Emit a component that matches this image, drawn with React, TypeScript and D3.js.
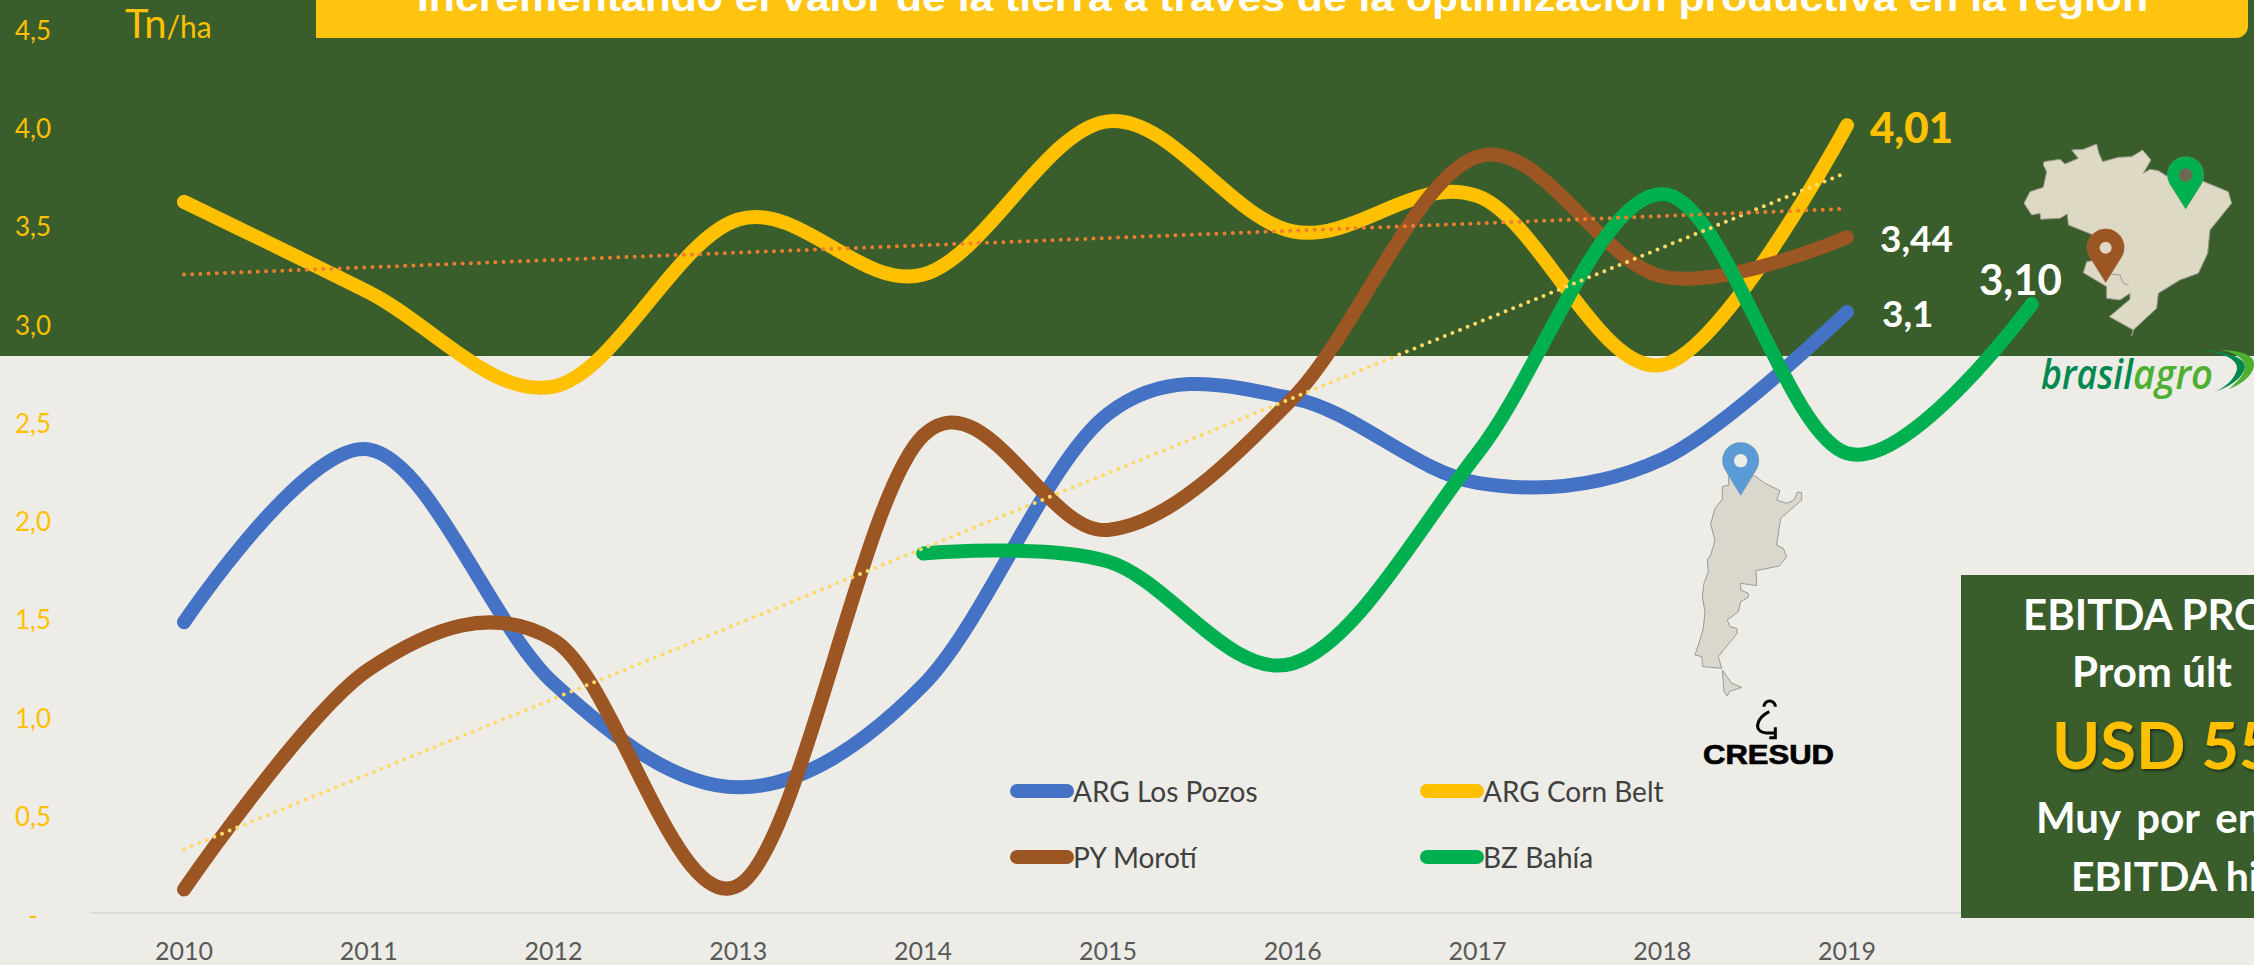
import React from "react";
import * as d3 from "d3";

const years = [2010, 2011, 2012, 2013, 2014, 2015, 2016, 2017, 2018, 2019];
const greenYears = [2014, 2015, 2016, 2017, 2018, 2019, 2020];
const yTickValues = [0, 0.5, 1, 1.5, 2, 2.5, 3, 3.5, 4, 4.5];
const yTickLabels = ["-", "0,5", "1,0", "1,5", "2,0", "2,5", "3,0", "3,5", "4,0", "4,5"];

const losPozos = [1.48, 2.36, 1.17, 0.64, 1.16, 2.54, 2.62, 2.19, 2.31, 3.06];
const cornBelt = [3.62, 3.16, 2.68, 3.53, 3.25, 4.03, 3.47, 3.65, 2.79, 4.01];
const moroti = [0.12, 1.24, 1.39, 0.14, 2.43, 1.95, 2.62, 3.85, 3.24, 3.44];
const bahia = [1.83, 1.79, 1.27, 2.34, 3.66, 2.34, 3.1];
const trendYellow = [0.325, 3.77];
const trendOrange = [3.25, 3.585];

const BLUE = "#4472C4", YELLOW = "#FFC000", BROWN = "#9C5623", GREEN = "#00B050";
const DARK = "#395E2B", LIGHT = "#EDECE7";

const x = d3.scaleLinear().domain([2010, 2019]).range([184, 1847]);
const y = d3.scaleLinear().domain([0, 4.5]).range([913, 29]);

const smooth = d3.line<[number, number]>().x((d) => x(d[0])).y((d) => y(d[1])).curve(d3.curveCardinal.tension(0));
const straight = d3.line<[number, number]>().x((d) => x(d[0])).y((d) => y(d[1]));
const zip = (xs: number[], vs: number[]) => vs.map((v, i) => [xs[i], v] as [number, number]);

const series = [
  { name: "ARG Los Pozos", xs: years, vs: losPozos, color: BLUE },
  { name: "ARG Corn Belt", xs: years, vs: cornBelt, color: YELLOW },
  { name: "PY Morotí", xs: years, vs: moroti, color: BROWN },
  { name: "BZ Bahía", xs: greenYears, vs: bahia, color: GREEN },
];

const brazil = "M282,185 L330,178 L345,192 L385,175 L365,150 L400,148 L440,132 L447,160 L458,185 L505,172 L545,170 L578,150 L603,180 L580,220 L600,208 L625,212 L650,228 L700,215 L750,240 L835,275 L845,310 L780,390 L773,460 L745,520 L690,540 L625,580 L620,625 L550,690 L545,708 L550,690 L478,650 L540,598 L540,580 L510,600 L470,595 L470,560 L400,518 L410,485 L440,480 L430,405 L355,375 L352,342 L330,355 L272,358 L270,340 L245,345 L222,310 L240,275 L280,262 L290,215 L280,195 Z";
const argentina = "M235,170 L237,195 L217,200 L217,238 L195,265 L182,312 L195,362 L182,405 L172,420 L175,455 L162,490 L157,530 L165,575 L160,625 L150,660 L135,705 L155,710 L158,740 L215,745 L205,710 L225,685 L262,640 L260,625 L240,620 L232,600 L265,575 L272,545 L295,532 L295,520 L272,510 L272,490 L320,497 L318,452 L388,438 L410,410 L400,385 L380,375 L392,295 L455,240 L455,218 L442,216 L432,240 L410,250 L380,240 L390,212 L345,190 L315,168 Z";
const fuego = "M217,750 L222,815 L232,828 L238,815 L275,802 L245,790 Z";

function Pin({ cx, cy, r, tip, hole, fill, holeFill }: any) {
  const dx = r * 0.86;
  const d = `M${cx},${tip} L${cx - dx},${cy + r * 0.5} A${r},${r} 0 1 1 ${cx + dx},${cy + r * 0.5} Z`;
  return (
    <g>
      <path d={d} fill={fill} stroke="#B98A6E" strokeWidth={0.6} />
      <circle cx={cx} cy={cy} r={hole} fill={holeFill} />
    </g>
  );
}

export default function App() {
  const lato = "Lato, 'Open Sans', sans-serif";
  return (
    <svg width={2254} height={965} viewBox="0 0 2254 965" style={{ position: "absolute", left: 0, top: 0, display: "block" }}>
      <defs>
        <filter id="sh" x="-10%" y="-10%" width="120%" height="130%">
          <feDropShadow dx="1.5" dy="2" stdDeviation="1.5" floodColor="#000" floodOpacity="0.5" />
        </filter>
      </defs>
      <rect x={0} y={0} width={2254} height={965} fill={LIGHT} />
      <rect x={0} y={0} width={2254} height={356} fill={DARK} />

      <path d="M316,0 H2248 V26 A12,12 0 0 1 2236,38 H316 Z" fill="#FFC410" />
      <text x={417} y={11} fontFamily="'Liberation Sans', Arial, sans-serif" fontWeight={700} fontSize={37.5} fill="#FFFFFF" textLength={1731} lengthAdjust="spacingAndGlyphs">
        Incrementando el valor de la tierra a través de la optimización productiva en la región
      </text>

      <line x1={91} x2={1961} y1={y(0)} y2={y(0)} stroke="#D9D9D9" strokeWidth={2} />

      {yTickValues.map((v, i) => (
        <text key={v} x={33} y={y(v) + (v === 0 ? 2 : 1)} textAnchor="middle" dominantBaseline="central" fontFamily={lato} fontSize={26} fill={YELLOW}>
          {yTickLabels[i]}
        </text>
      ))}
      {years.map((yr) => (
        <text key={yr} x={x(yr)} y={960} textAnchor="middle" fontFamily={lato} fontSize={25} fill="#595959">
          {yr}
        </text>
      ))}
      <text x={125} y={38} fontFamily={lato} fontSize={40} fill={YELLOW}>
        Tn<tspan fontSize={30}>/ha</tspan>
      </text>

      {series.map((s) => (
        <path key={s.name} d={smooth(zip(s.xs, s.vs)) as string} fill="none" stroke={s.color} strokeWidth={14} strokeLinecap="round" strokeLinejoin="round" />
      ))}
      <path d={straight(zip([2010, 2019], trendYellow)) as string} fill="none" stroke="#FFD966" strokeWidth={4} strokeDasharray="0 8.2" strokeLinecap="round" />
      <path d={straight(zip([2010, 2019], trendOrange)) as string} fill="none" stroke="#ED7D31" strokeWidth={4} strokeDasharray="0 8.2" strokeLinecap="round" />

      <text x={1870} y={143} fontFamily={lato} fontWeight={900} fontSize={42} fill={YELLOW}>4,01</text>
      <text x={1880} y={252} fontFamily={lato} fontWeight={700} fontSize={37} fill="#FFFFFF">3,44</text>
      <text x={1882} y={327} fontFamily={lato} fontWeight={700} fontSize={37} fill="#FFFFFF">3,1</text>
      <text x={1979} y={295} fontFamily={lato} fontWeight={700} fontSize={42} fill="#FFFFFF">3,10</text>

      {series.map((s, i) => {
        const lx = i % 2 === 0 ? 1017 : 1427;
        const ly = i < 2 ? 791 : 857;
        return (
          <g key={s.name}>
            <line x1={lx} x2={lx + 50} y1={ly} y2={ly} stroke={s.color} strokeWidth={14} strokeLinecap="round" />
            <text x={lx + 56} y={ly} dominantBaseline="central" fontFamily={lato} fontSize={28} fill="#404040">{s.name}</text>
          </g>
        );
      })}

      <g transform="translate(1950,100) scale(0.3333)">
        <path d={brazil} fill="#DED9C4" stroke="#9A9A90" strokeWidth={3} strokeLinejoin="round" />
        <path d="M460,520 L510,525 L520,550 L535,555" fill="none" stroke="#9A9A90" strokeWidth={3} />
        <Pin cx={707} cy={225} r={55} tip={328} hole={20} fill={GREEN} holeFill="#6B6A50" />
        <Pin cx={467} cy={443} r={56} tip={548} hole={18} fill={BROWN} holeFill="#DED9C4" />
      </g>

      <g transform="translate(1650,420) scale(0.3333)">
        <path d={argentina} fill="#DAD7CC" stroke="#9A9A96" strokeWidth={3} strokeLinejoin="round" />
        <path d={fuego} fill="#DAD7CC" stroke="#9A9A96" strokeWidth={3} strokeLinejoin="round" />
        <Pin cx={272} cy={122} r={55} tip={227} hole={20} fill="#5B9BD5" holeFill={LIGHT} />
        <path d="M342,860 A17,17 0 0 1 376,860 M358,875 C322,892 305,935 350,939 L376,939 M376,922 V953 H358" fill="none" stroke="#000" strokeWidth={9} />
      </g>
      <text x={1703} y={764} fontFamily="'Liberation Sans', Arial, sans-serif" fontWeight={700} fontSize={27} fill="#000" stroke="#000" strokeWidth={0.7} textLength={131} lengthAdjust="spacingAndGlyphs">CRESUD</text>

      <g transform="translate(1950,100) scale(0.3333)">
        <path d="M740,750 C820,755 870,780 860,812 C850,842 820,865 795,875 C840,862 880,832 885,802 C888,770 820,752 740,750 Z" fill="#00894F" />
        <path d="M810,750 C870,750 912,765 912,790 V800 C905,830 870,855 835,868 C870,840 895,810 880,785 C868,765 840,755 810,750 Z" fill="#4DB032" />
      </g>
      <text x={2041} y={389} fontFamily="'Open Sans', Lato, sans-serif" fontStyle="italic" fontWeight={600} fontSize={42} fill="#00894F" textLength={92} lengthAdjust="spacingAndGlyphs">brasil</text>
      <text x={2133} y={389} fontFamily="'Open Sans', Lato, sans-serif" fontStyle="italic" fontWeight={600} fontSize={42} fill="#4DB032" textLength={80} lengthAdjust="spacingAndGlyphs">agro</text>

      <rect x={1961} y={575} width={293} height={343} fill={DARK} />
      <text x={2023} y={630} fontFamily={lato} fontWeight={700} fontSize={42} fill="#FFFFFF">EBITDA PRO</text>
      <text x={2072} y={687} fontFamily={lato} fontWeight={700} fontSize={42} fill="#FFFFFF">Prom últ</text>
      <text x={2052} y={769} fontFamily={lato} fontWeight={700} fontSize={65} fill={YELLOW} filter="url(#sh)">USD 55</text>
      <text x={2036} y={833} fontFamily={lato} fontWeight={700} fontSize={42} wordSpacing={6} fill="#FFFFFF">Muy por en</text>
      <text x={2071} y={891} fontFamily={lato} fontWeight={700} fontSize={41} fill="#FFFFFF">EBITDA hi</text>
    </svg>
  );
}
